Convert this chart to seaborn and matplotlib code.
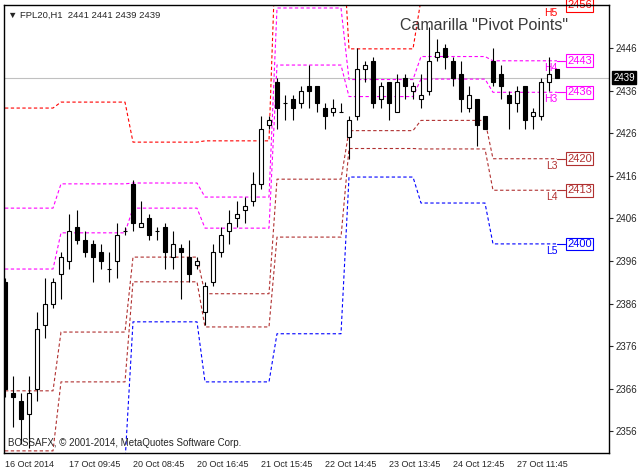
import numpy as np
import pandas as pd
import matplotlib
matplotlib.use("Agg")
import matplotlib.pyplot as plt
import seaborn as sns

# FPL20 H1 bars, 16 Oct - 27 Oct 2014
opens = [2391, 2365, 2363, 2360, 2366, 2381, 2386, 2393, 2396, 2404,
         2401, 2400, 2398, 2394, 2396, 2403, 2414, 2404, 2406, 2403,
         2404, 2397, 2399, 2397, 2395, 2384, 2391, 2398, 2403, 2406,
         2408, 2410, 2414, 2428, 2438, 2433, 2434, 2433, 2437, 2437,
         2432, 2431, 2431, 2425, 2430, 2441, 2443, 2434, 2438, 2431,
         2439, 2436, 2434, 2436, 2444, 2446, 2443, 2440, 2432, 2434,
         2430, 2443, 2440, 2435, 2433, 2437, 2430, 2430, 2438, 2441]
highs = [2392, 2369, 2365, 2369, 2384, 2392, 2392, 2398, 2407, 2408,
         2403, 2401, 2400, 2398, 2405, 2404, 2415, 2410, 2407, 2404,
         2405, 2403, 2400, 2401, 2397, 2391, 2400, 2404, 2408, 2410,
         2411, 2417, 2430, 2430, 2439, 2435, 2435, 2437, 2442, 2437,
         2433, 2434, 2433, 2430, 2446, 2443, 2444, 2438, 2438, 2440,
         2440, 2438, 2440, 2451, 2448, 2447, 2444, 2443, 2437, 2434,
         2430, 2446, 2442, 2436, 2437, 2437, 2432, 2439, 2444, 2441]
lows = [2364, 2357, 2353, 2352, 2363, 2378, 2385, 2387, 2394, 2400,
        2397, 2391, 2394, 2391, 2392, 2402, 2403, 2404, 2401, 2401,
        2394, 2394, 2387, 2391, 2394, 2381, 2390, 2397, 2400, 2404,
        2405, 2409, 2413, 2427, 2427, 2429, 2429, 2432, 2432, 2431,
        2427, 2430, 2431, 2420, 2429, 2438, 2432, 2432, 2429, 2431,
        2434, 2434, 2432, 2435, 2443, 2441, 2437, 2431, 2431, 2423,
        2427, 2437, 2434, 2427, 2431, 2427, 2427, 2429, 2436, 2439]
closes = [2366, 2364, 2359, 2365, 2380, 2386, 2391, 2397, 2403, 2401,
          2398, 2397, 2396, 2394, 2402, 2403, 2405, 2405, 2402, 2403,
          2398, 2400, 2398, 2393, 2396, 2390, 2398, 2402, 2405, 2407,
          2409, 2414, 2427, 2429, 2432, 2433, 2432, 2436, 2436, 2433,
          2430, 2432, 2431, 2429, 2441, 2442, 2433, 2437, 2433, 2438,
          2437, 2437, 2435, 2443, 2445, 2444, 2439, 2434, 2435, 2428,
          2427, 2438, 2437, 2433, 2436, 2429, 2431, 2438, 2440, 2439]

tick_labels = ["16 Oct 2014", "17 Oct 09:45", "20 Oct 08:45", "20 Oct 16:45",
               "21 Oct 15:45", "22 Oct 14:45", "23 Oct 13:45", "24 Oct 12:45",
               "27 Oct 11:45"]

# bars in each session, camarilla levels per session
day_bars = [7, 9, 9, 9, 9, 9, 9, 9]
h5 = [2431.9, 2433.3, 2423.9, 2424.2, 2478.3, 2445.8, 2457.4, 2456.0]
h4 = [2408.4, 2414.1, 2414.3, 2411.0, 2455.4, 2438.6, 2444.0, 2443.0]
h3 = [2394.1, 2402.6, 2408.4, 2403.7, 2442.0, 2434.6, 2438.7, 2435.6]
l3 = [2365.5, 2379.3, 2396.9, 2388.3, 2415.2, 2426.6, 2429.0, 2420.0]
l4 = [2351.4, 2367.6, 2391.1, 2380.5, 2401.6, 2422.4, 2422.3, 2412.6]
l5 = [2327.7, 2348.7, 2381.7, 2367.6, 2378.9, 2415.7, 2409.6, 2400.0]

levels = {"H5": h5, "H4": h4, "H3": h3, "L3": l3, "L4": l4, "L5": l5}
colors = {"H5": "#ff0000", "H4": "#ff00ff", "H3": "#ff00ff",
          "L3": "#b03030", "L4": "#b03030", "L5": "#0000ff"}

sns.set_style("white")
plt.rcParams['font.family'] = ['Liberation Sans', 'DejaVu Sans']

fig = plt.figure(figsize=(6.4, 4.72), dpi=100)
ax = fig.add_axes([4 / 640, 19 / 472, 605 / 640, 448 / 472])

bars = np.arange(len(opens))
o = np.array(opens)
c = np.array(closes)

# current price line
ax.axhline(closes[-1], color="#c0c0c0", lw=0.8, zorder=1)

# pivot lines
for name, vals in levels.items():
    per_bar = np.repeat(vals, day_bars)
    sns.lineplot(x=bars, y=per_bar, color=colors[name], lw=0.8,
                 linestyle=(0, (3, 2.2)), ax=ax, zorder=2)
    last = vals[-1]
    ax.plot([bars[-1], bars[-1] + 1], [last, last], color=colors[name], lw=0.8, zorder=2)
    ax.annotate(name, (bars[-1] + 0.1, last), xytext=(0, -1.5), textcoords="offset points",
                ha="right", va="top", fontsize=7.5, color=colors[name], annotation_clip=False)
    ax.annotate(f"{round(last)}", (bars[-1] + 1, last), xytext=(1.5, 0),
                textcoords="offset points", ha="left", va="center", fontsize=8,
                color=colors[name], zorder=2.4, annotation_clip=False,
                bbox=dict(boxstyle="square,pad=0.12", fc="white", ec=colors[name], lw=0.8))

# candles
up = c >= o
ax.vlines(bars, lows, highs, color="black", lw=0.8, zorder=3)
ax.bar(bars, np.abs(c - o), bottom=np.minimum(o, c), width=0.5,
       color=np.where(up, "white", "black"), edgecolor="black", lw=0.8, zorder=4)

ax.set_xlim(-0.125, 75.5)
ax.set_ylim(2350.9, 2456.1)

ax.set_xticks(bars[::8][:len(tick_labels)])
ax.set_xticklabels(tick_labels)
for lab in ax.get_xticklabels():
    lab.set_horizontalalignment("left")
ax.yaxis.tick_right()
ax.set_yticks(np.arange(2356, 2447, 10))
ax.tick_params(axis="x", direction="out", length=3, width=0.8, pad=2, labelsize=6.5)
ax.tick_params(axis="y", direction="out", length=3, width=0.8, pad=2, labelsize=7)
ax.set_xlabel("")
ax.set_ylabel("")
for sp in ax.spines.values():
    sp.set_visible(True)
    sp.set_color("black")
    sp.set_linewidth(1)

# current price tag on the price scale
ax.annotate(f"{closes[-1]}", (1, closes[-1]), xycoords=("axes fraction", "data"),
            xytext=(3, 0), textcoords="offset points", ha="left", va="center",
            fontsize=7, color="white", annotation_clip=False,
            bbox=dict(boxstyle="square,pad=0.15", fc="black", ec="black"))

fig.text(8 / 640, 1 - 15 / 472,
         f"\u25bc FPL20,H1  {opens[-1]} {highs[-1]} {lows[-1]} {closes[-1]}",
         va="center", fontsize=6.8)
fig.text(400 / 640, 1 - 25 / 472, "Camarilla \"Pivot Points\"", va="center",
         fontsize=11.5, color="#3a3a3a")
fig.text(8 / 640, 1 - 443 / 472, "BOSSAFX, \u00a9 2001-2014, MetaQuotes Software Corp.",
         va="center", fontsize=7)

fig.savefig("out.png", dpi=100, facecolor="white")
